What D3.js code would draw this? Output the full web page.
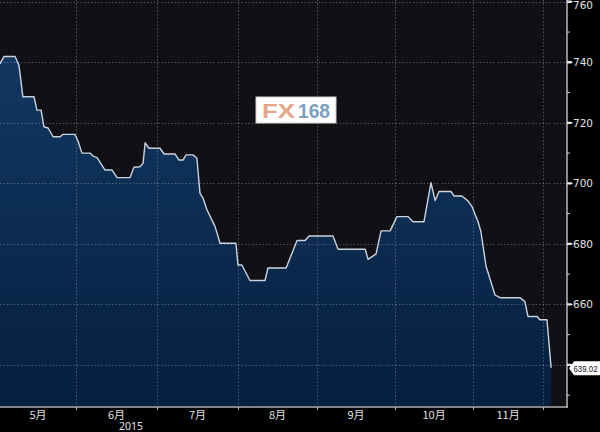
<!DOCTYPE html>
<html><head><meta charset="utf-8">
<script src="https://cdn.jsdelivr.net/npm/d3@7"></script>
<style>html,body{margin:0;padding:0;background:#000;overflow:hidden}</style>
</head><body><svg id="c" width="600" height="432"></svg>
<script>
// x in day index (0 = start of chart window), values of the series
const days = [0,1.5,5.8,7.3,8.8,13.1,14.2,15.8,16.9,18.5,20.4,23.1,24.2,28.8,30.0,31.5,34.6,35.8,37.3,40.4,43.1,45.0,50.0,51.5,53.8,55.0,55.8,57.3,61.5,63.1,67.3,68.8,70.4,71.5,74.2,75.7,76.9,78.1,79.6,82.7,84.6,90.7,91.5,93.0,96.1,101.9,103.0,110.0,114.2,117.3,118.8,128.0,130.0,140.4,141.5,144.6,146.5,150.0,152.6,156.9,158.8,163.0,165.7,167.3,168.8,173.4,174.6,177.6,179.9,181.5,183.8,184.9,186.9,190.3,192.3,200.0,201.8,203.0,206.5,207.6,210.3,211.9];
const values = [739.5,741.9,741.9,739,728.6,728.6,724.2,724.2,718.7,718.3,715.4,715.4,716.2,716.2,714,710,710,709,708.5,704.4,704.4,701.9,701.9,705.3,705.5,706.6,713.4,711.6,711.6,709.7,709.7,707.7,707.7,709.4,709.4,708.3,696.7,695,691.2,685.7,680.2,680.2,673,673,667.9,667.9,672,672,681.1,681.1,682.6,682.6,678.2,678.2,674.9,676.7,684.3,684.3,689,689,687.3,687.3,700.2,694.3,697.3,697.3,695.8,695.8,694.2,692.3,687.3,684,672.5,663.1,662.2,662.2,660.9,656,656,654.9,654.9,639.02];
const monthBounds = [29.2, 60.4, 91.5, 121.9, 151.9, 181.9, 208.8];
const monthLabels = ["5月","6月","7月","8月","9月","10月","11月"];
const yearLabel = "2015";
const yTicks = [760,740,720,700,680,660,640];
const yMinor = [750,730,710,690,670,650,630];
const lastLabel = "639.02";

const svg = d3.select("#c");
const W = 567, B = 406;
const x = d3.scaleLinear().domain([0,218]).range([0,W]);
const y = d3.scaleLinear().domain([640,760]).range([364.9,1.8]);

svg.append("rect").attr("x",0).attr("y",0).attr("width",W).attr("height",B).attr("fill","#111015");

const defs = svg.append("defs");
const g = defs.append("linearGradient").attr("id","fg")
  .attr("gradientUnits","userSpaceOnUse").attr("x1",0).attr("y1",50).attr("x2",0).attr("y2",B);
g.append("stop").attr("offset","0").attr("stop-color","#123863");
g.append("stop").attr("offset","1").attr("stop-color","#051f3e");

const pts = days.map((d,i)=>[d, values[i]]);
svg.append("path").datum(pts)
  .attr("d", d3.area().x(d=>x(d[0])).y0(B).y1(d=>y(d[1])))
  .attr("fill","url(#fg)");

// grid
const grid = svg.append("g").attr("stroke","rgba(150,160,180,0.45)").attr("stroke-width",1).attr("stroke-dasharray","1.5,2");
grid.selectAll("line.h").data(yTicks).join("line").attr("class","h")
  .attr("x1",0).attr("x2",W).attr("y1",d=>Math.round(y(d))+0.5).attr("y2",d=>Math.round(y(d))+0.5);
grid.selectAll("line.v").data(monthBounds).join("line").attr("class","v")
  .attr("x1",d=>Math.round(x(d))+0.5).attr("x2",d=>Math.round(x(d))+0.5).attr("y1",0).attr("y2",B);

svg.append("path").datum(pts)
  .attr("d", d3.line().x(d=>x(d[0])).y(d=>y(d[1])))
  .attr("fill","none").attr("stroke","#c9d3de").attr("stroke-width",1.4).attr("stroke-linejoin","round");

// bottom axis
svg.append("line").attr("x1",0).attr("x2",W+1).attr("y1",B+1).attr("y2",B+1).attr("stroke","#b0b0b0").attr("stroke-width",1.5);
svg.selectAll("line.xt").data(monthBounds).join("line").attr("class","xt")
  .attr("x1",d=>Math.round(x(d))+0.5).attr("x2",d=>Math.round(x(d))+0.5).attr("y1",B+1).attr("y2",B+4)
  .attr("stroke","#b0b0b0").attr("stroke-width",1);
const starts = [0].concat(monthBounds.slice(0,-1));
svg.selectAll("text.xl").data(monthLabels).join("text").attr("class","xl")
  .attr("x",(d,i)=>x((starts[i]+monthBounds[i])/2)).attr("y",419)
  .attr("text-anchor","middle").attr("fill","#e0e0e0")
  .attr("font-family","'Noto Sans CJK SC', 'Noto Sans', sans-serif").attr("font-size",11).text(d=>d);
svg.append("text").attr("x",x(50.4)).attr("y",430).attr("text-anchor","middle").attr("fill","#e0e0e0")
  .attr("font-family","'Noto Sans', sans-serif").attr("font-size",10.5).text(yearLabel);

// right axis
svg.append("line").attr("x1",W).attr("x2",W).attr("y1",0).attr("y2",B+1.5).attr("stroke","#b8b8b8").attr("stroke-width",1.5);
svg.selectAll("path.yt").data(yTicks).join("path").attr("class","yt")
  .attr("d",d=>{const yy=y(d);return `M${W},${yy-1.2}L${W+4},${yy-1.2}L${W+6},${yy}L${W+4},${yy+1.2}L${W},${yy+1.2}Z`;})
  .attr("fill","#e8e8e8");
svg.selectAll("line.ym").data(yMinor).join("line").attr("class","ym")
  .attr("x1",W).attr("x2",W+3).attr("y1",d=>y(d)).attr("y2",d=>y(d)).attr("stroke","#cfcfcf").attr("stroke-width",1);
svg.selectAll("text.yl").data(yTicks.filter(d=>d!==640)).join("text").attr("class","yl")
  .attr("x",W+6).attr("y",d=>Math.max(y(d)+4,8.5)).attr("fill","#e0e0e0")
  .attr("font-family","'DejaVu Sans', sans-serif").attr("font-size",10.5).text(d=>d);

// last value tag
const ly = y(values[values.length-1]) + 0.5;
svg.append("path").attr("d",`M${W+2},${ly}L${W+7},${ly-7}L${600},${ly-7}L${600},${ly+7}L${W+7},${ly+7}Z`)
  .attr("fill","#fff");
svg.append("text").attr("x",W+6.5).attr("y",ly+3.5).attr("fill","#111")
  .attr("font-family","'Liberation Sans', sans-serif").attr("font-size",9.5)
  .attr("textLength",24).attr("lengthAdjust","spacingAndGlyphs").text(lastLabel);

// logo
svg.append("rect").attr("x",256).attr("y",97).attr("width",80).attr("height",26).attr("fill","#fff").attr("stroke","#d0d0d0");
svg.append("text").attr("x",262).attr("y",118).attr("fill","#e6a488").attr("font-family","'Liberation Sans', sans-serif")
  .attr("font-weight","bold").attr("font-size",20).attr("textLength",33).attr("lengthAdjust","spacingAndGlyphs").text("FX");
svg.append("text").attr("x",298).attr("y",118).attr("fill","#7b9fbe").attr("font-family","'Liberation Sans', sans-serif")
  .attr("font-weight","bold").attr("font-size",20).attr("textLength",32).attr("lengthAdjust","spacingAndGlyphs").text("168");
</script></body></html>
